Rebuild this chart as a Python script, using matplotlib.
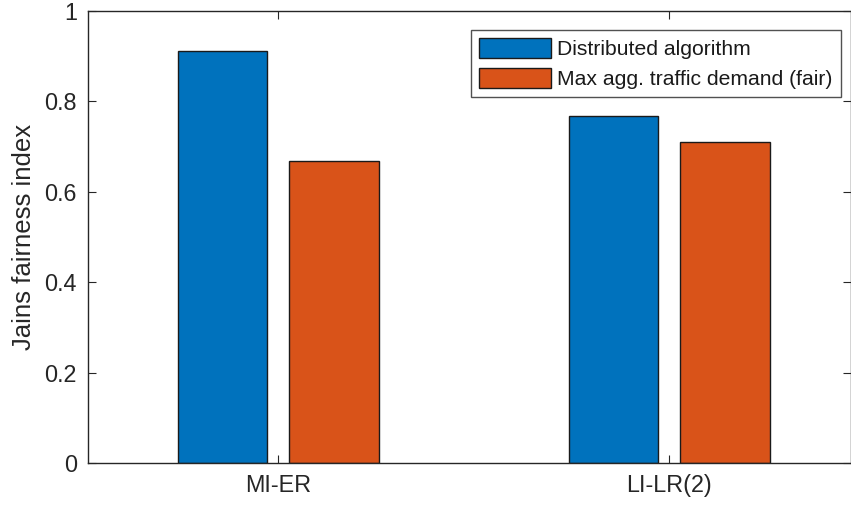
import matplotlib
matplotlib.use("Agg")
import matplotlib.pyplot as plt
import numpy as np

# -------------
# Data
# -------------
categories = ["MI-ER", "LI-LR(2)"]
series_names = ["Distributed algorithm", "Max agg. traffic demand (fair)"]
distributed = [0.911, 0.768]
max_agg_fair = [0.668, 0.710]
y_ticks = [0, 0.2, 0.4, 0.6, 0.8, 1]

plt.rcParams["font.family"] = ["Liberation Sans", "DejaVu Sans"]

fig = plt.figure(figsize=(8.51, 5.05), dpi=100)
ax = fig.add_axes([88 / 851, 1 - 463.3 / 505, (850.6 - 88) / 851, (463.3 - 10.5) / 505])

x = np.arange(1, len(categories) + 1)
w = 0.2285
off = 0.143
ax.bar(x - off, distributed, w, color="#0072BD", edgecolor="#1a1a1a", linewidth=1.0,
       label=series_names[0], zorder=2)
ax.bar(x + off, max_agg_fair, w, color="#D95319", edgecolor="#1a1a1a", linewidth=1.0,
       label=series_names[1], zorder=2)

ax.set_xlim(0.5134, 2.464)
ax.set_ylim(0, 1)
ax.set_xticks(x)
ax.set_xticklabels(categories)
ax.set_yticks(y_ticks)
ax.set_yticklabels(["%g" % t for t in y_ticks])
ax.set_ylabel("Jains fairness index", fontsize=18.5, color="#262626", labelpad=6)

for s in ax.spines.values():
    s.set_color("#262626")
    s.set_linewidth(1.0)
ax.tick_params(direction="in", length=6, width=0.8, color="#262626",
               labelsize=16.8, labelcolor="#262626", top=True, right=True, pad=8)

leg = ax.legend(loc="upper right", bbox_to_anchor=(840.5 / 851, 1 - 30 / 505),
                bbox_transform=fig.transFigure, fontsize=15.2, frameon=True,
                fancybox=False, edgecolor="#262626", handlelength=3.4,
                handleheight=1.1, handletextpad=0.3, labelspacing=0.4,
                borderpad=0.38, borderaxespad=0)
leg.get_frame().set_linewidth(1.0)
for t in leg.get_texts():
    t.set_color("#1a1a1a")

fig.savefig("out.png", dpi=100)
